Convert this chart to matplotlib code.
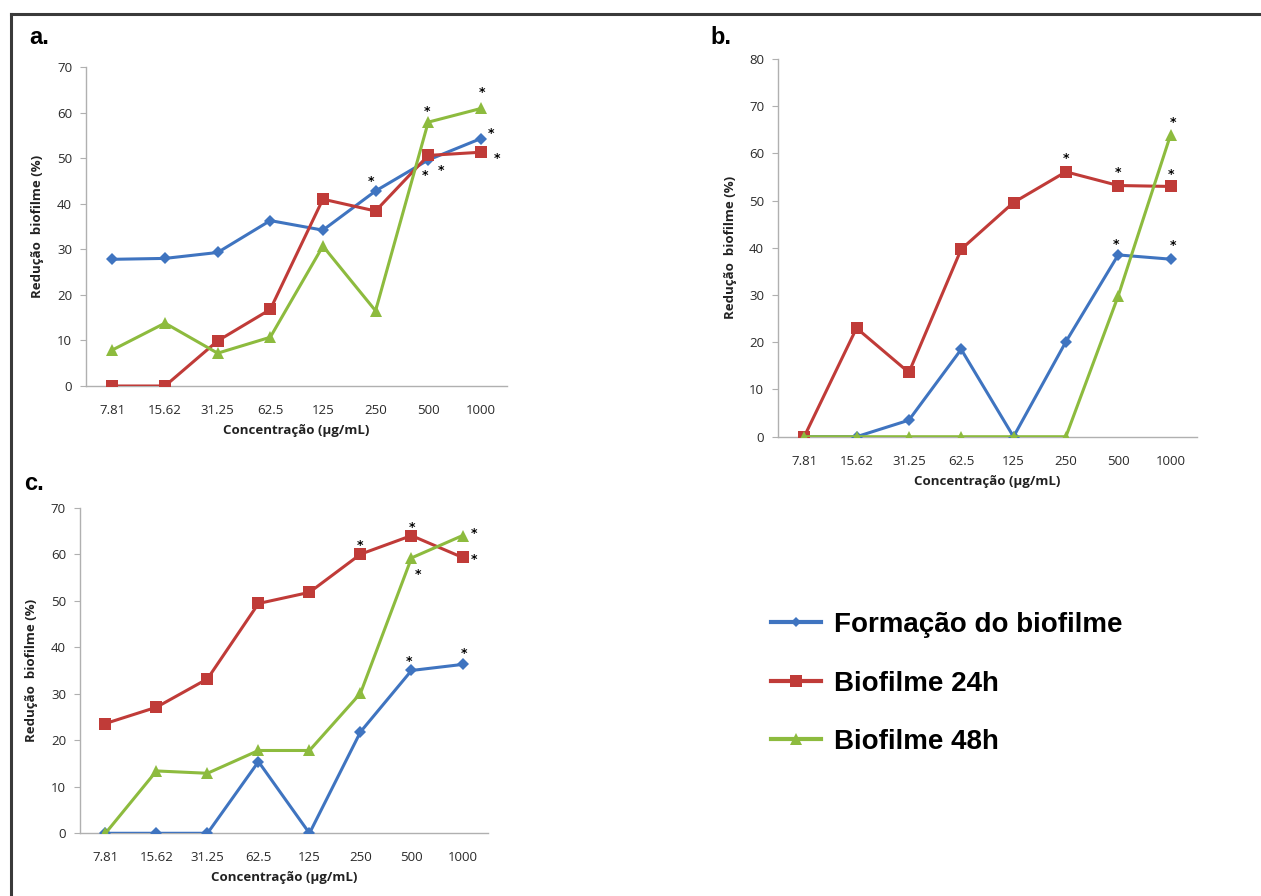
import numpy as np
import matplotlib
matplotlib.use('Agg')
import matplotlib.pyplot as plt
from matplotlib.lines import Line2D

concentrations = ['7.81', '15.62', '31.25', '62.5', '125', '250', '500', '1000']
series_names = ['Formação do biofilme', 'Biofilme 24h', 'Biofilme 48h']

# panel a
a_formacao = [27.8, 28.0, 29.3, 36.3, 34.2, 42.8, 49.6, 54.3]
a_24h = [0, 0, 9.9, 16.8, 41.0, 38.4, 50.6, 51.3]
a_48h = [7.9, 13.8, 7.2, 10.7, 30.7, 16.5, 57.9, 60.9]

# panel b
b_formacao = [0, 0, 3.5, 18.5, 0, 20.1, 38.5, 37.6]
b_24h = [0, 23.0, 13.6, 39.7, 49.6, 56.1, 53.2, 53.0]
b_48h = [0, 0, 0, 0, 0, 0, 29.8, 63.9]

# panel c
c_formacao = [0, 0, 0, 15.4, 0, 21.8, 35.0, 36.3]
c_24h = [23.6, 27.1, 33.2, 49.4, 51.8, 60.0, 64.0, 59.3]
c_48h = [0, 13.4, 12.9, 17.8, 17.8, 30.1, 59.2, 64.0]

# significance marks: (series index, category index, dx px, dy px)
a_stars = [(0, 5, -5, 14), (2, 6, -1, 15), (0, 6, -3, -11), (1, 6, 13, -11),
           (2, 7, 1, 20), (0, 7, 10, 9), (1, 7, 16, -2)]
b_stars = [(1, 5, 0, 17), (1, 6, 0, 17), (0, 6, -2, 15),
           (2, 7, 2, 17), (1, 7, 0, 16), (0, 7, 2, 18)]
c_stars = [(1, 5, 0, 13), (1, 6, 1, 12), (2, 6, 7, -12), (0, 6, -2, 13),
           (2, 7, 11, 6), (1, 7, 11, 2), (0, 7, 1, 15)]

colors = ['#3F74C0', '#C03B38', '#8DBB3E']
markers = ['D', 's', '^']
msizes = [6, 8.5, 9]

tick_font = 'Open Sans'
label_font = 'Open Sans'


def draw_panel(ax, data, stars, ymax, letter, letter_xy):
    x = np.arange(len(concentrations))
    for i, vals in enumerate(data):
        ax.plot(x, vals, color=colors[i], marker=markers[i], markersize=msizes[i],
                linewidth=2.2, markeredgewidth=0, zorder=3 + i)
    for s, k, dx, dy in stars:
        ax.annotate('*', xy=(x[k], data[s][k]), xytext=(dx * 0.72, dy * 0.72 - 3),
                    textcoords='offset points', ha='center', va='center',
                    fontsize=9, fontweight='bold', color='black')
    ax.set_xlim(-0.5, 7.5)
    ax.set_ylim(0, ymax)
    ax.set_yticks(np.arange(0, ymax + 1, 10))
    ax.set_xticks(x)
    ax.set_xticklabels(concentrations)
    for sp in ['top', 'right']:
        ax.spines[sp].set_visible(False)
    for sp in ['left', 'bottom']:
        ax.spines[sp].set_color('#b0b0b0')
        ax.spines[sp].set_linewidth(1.0)
    ax.tick_params(axis='y', length=4, color='#b0b0b0', pad=6, labelsize=9.5, labelcolor='#2a2a2a')
    ax.tick_params(axis='x', length=0, pad=13, labelsize=9.5, labelcolor='#2a2a2a')
    for lab in ax.get_xticklabels() + ax.get_yticklabels():
        lab.set_fontfamily(tick_font)
    ax.set_xlabel('Concentração (µg/mL)', fontsize=9.5, fontweight='bold',
                  fontfamily=label_font, color='#222222', labelpad=5)
    ax.set_ylabel('Redução  biofilme (%)', fontsize=9.5, fontweight='bold',
                  fontfamily=label_font, color='#222222', labelpad=9)
    ax.figure.text(letter_xy[0], letter_xy[1], letter, fontsize=17, fontweight='bold',
                   fontfamily='Liberation Sans', ha='left', va='center')


fig = plt.figure(figsize=(12.61, 8.96), dpi=100)

ax_a = fig.add_axes([0.0682, 0.5692, 0.334, 0.356])
ax_b = fig.add_axes([0.617, 0.5126, 0.332, 0.4216])
ax_c = fig.add_axes([0.0634, 0.070, 0.3236, 0.3634])

draw_panel(ax_a, [a_formacao, a_24h, a_48h], a_stars, 70, 'a.', (29 / 1261, 1 - 38 / 896))
draw_panel(ax_b, [b_formacao, b_24h, b_48h], b_stars, 80, 'b.', (710 / 1261, 1 - 38 / 896))
draw_panel(ax_c, [c_formacao, c_24h, c_48h], c_stars, 70, 'c.', (24 / 1261, 1 - 483 / 896))

handles = [Line2D([], [], color=colors[i], marker=markers[i], markersize=msizes[i] - 0.5,
                  linewidth=3, markeredgewidth=0) for i in range(3)]
fig.legend(handles, series_names, loc='upper left', bbox_to_anchor=(746 / 1261, 1 - 587 / 896),
           frameon=False, prop={'family': 'Liberation Sans', 'weight': 'bold', 'size': 20},
           handlelength=1.8, labelspacing=1.17, handletextpad=0.45)

# outer frame (top and left edges)
fig.add_artist(Line2D([11 / 1261, 1], [1 - 14 / 896, 1 - 14 / 896], color='#3a3a3a', linewidth=2.2))
fig.add_artist(Line2D([11 / 1261, 11 / 1261], [0, 1 - 14 / 896], color='#3a3a3a', linewidth=2.2))

fig.savefig('out.png', dpi=100)
plt.close(fig)
